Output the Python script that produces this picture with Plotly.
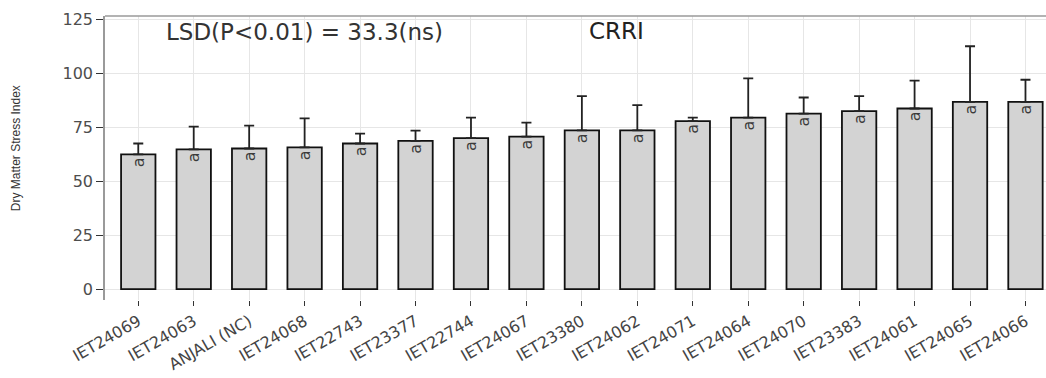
import plotly.graph_objects as go

genotypes = ["IET24069", "IET24063", "ANJALI (NC)", "IET24068", "IET22743", "IET23377",
             "IET22744", "IET24067", "IET23380", "IET24062", "IET24071", "IET24064",
             "IET24070", "IET23383", "IET24061", "IET24065", "IET24066"]
means = [62.4, 64.7, 65.1, 65.6, 67.4, 68.6, 69.9, 70.6, 73.5, 73.5, 77.8, 79.4,
         81.2, 82.4, 83.6, 86.7, 86.7]
upper = [67.4, 75.2, 75.7, 79.0, 72.0, 73.4, 79.4, 77.1, 89.3, 85.2, 79.4, 97.5,
         88.7, 89.3, 96.5, 112.4, 96.9]
letters = ["a"] * 17
yticks = [0, 25, 50, 75, 100, 125]

err = [u - m for u, m in zip(upper, means)]
xs = list(range(len(genotypes)))

fig = go.Figure()
fig.add_trace(go.Bar(
    x=xs, y=means, width=0.62,
    marker=dict(color="#d3d3d3", line=dict(color="#111111", width=1.8)),
    error_y=dict(type="data", symmetric=False, array=err, arrayminus=[0] * len(err),
                 color="#222222", thickness=1.8, width=5),
    text=letters, textposition="inside", insidetextanchor="end", textangle=-90,
    textfont=dict(family="DejaVu Sans, sans-serif", size=16, color="#3a3a3a"),
    cliponaxis=False,
))

fig.add_annotation(x=3.0, y=119, xref="x", yref="y", text="LSD(P<0.01) = 33.3(ns)",
                   showarrow=False, font=dict(family="DejaVu Sans, sans-serif", size=23, color="#333333"))
fig.add_annotation(x=8.63, y=119.5, xref="x", yref="y", text="CRRI",
                   showarrow=False, font=dict(family="DejaVu Sans, sans-serif", size=23, color="#222222"))
fig.add_annotation(x=-0.104, y=0.535, xref="paper", yref="paper", text="Dry Matter Stress Index",
                   textangle=-90, showarrow=False,
                   font=dict(family="Liberation Sans Narrow, Arial Narrow, sans-serif", size=12, color="#333333"))

fig.add_shape(type="line", xref="paper", yref="paper", x0=0, x1=1, y0=1, y1=1,
              line=dict(color="#9a9a9a", width=1.5))

fig.update_layout(
    width=1046, height=378,
    margin=dict(l=105, r=0, t=16, b=78),
    paper_bgcolor="white", plot_bgcolor="white",
    showlegend=False,
    font=dict(family="DejaVu Sans, sans-serif", color="#4d4d4d"),
    xaxis=dict(
        range=[-0.6, 16.37], tickmode="array", tickvals=xs, ticktext=genotypes,
        tickangle=-30, tickfont=dict(family="DejaVu Sans, sans-serif", size=16, color="#444444"),
        showgrid=True, gridcolor="#e6e6e6", gridwidth=1,
        ticks="outside", ticklen=5, tickcolor="#333333", showline=False, zeroline=False,
    ),
    yaxis=dict(
        range=[-5, 126.4], tickmode="array", tickvals=yticks,
        tickfont=dict(family="DejaVu Sans, sans-serif", size=16, color="#4d4d4d"),
        showgrid=True, gridcolor="#e6e6e6", gridwidth=1,
        ticks="outside", ticklen=7, tickcolor="#333333",
        showline=True, linecolor="#9a9a9a", linewidth=1.5, zeroline=False,
    ),
)

fig.write_html("out.html")
